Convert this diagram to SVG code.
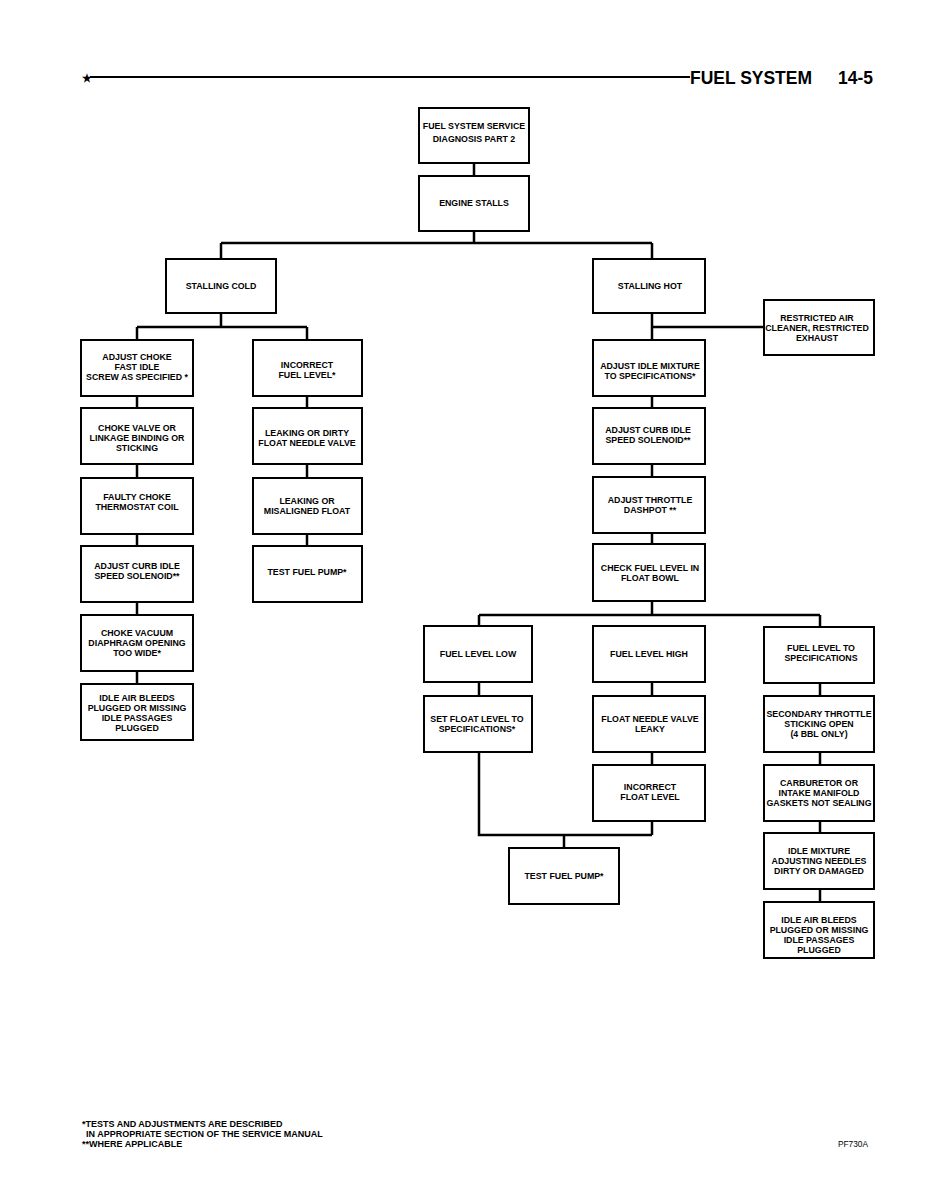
<svg xmlns="http://www.w3.org/2000/svg" width="927" height="1200" viewBox="0 0 927 1200">
<style>
.bx{fill:#fff;stroke:#000;stroke-width:2}
.t{font-family:"Liberation Sans",Arial,sans-serif;font-weight:bold;font-size:8.8px;text-anchor:middle;fill:#000}
.c{fill:none;stroke:#000;stroke-width:2.5}
.h{font-family:"Liberation Sans",Arial,sans-serif;font-weight:bold;font-size:19px;fill:#000}
.f{font-family:"Liberation Sans",Arial,sans-serif;font-weight:bold;font-size:9px;fill:#000}
</style>
<rect width="927" height="1200" fill="#fff"/>
<g id="header">
<text x="82" y="82" class="f" style="font-size:11px">★</text>
<line x1="90" y1="77" x2="690" y2="77" stroke="#000" stroke-width="2"/>
<text x="690" y="84" class="h" textLength="122" lengthAdjust="spacingAndGlyphs">FUEL SYSTEM</text>
<text x="838" y="84" class="h" textLength="35" lengthAdjust="spacingAndGlyphs">14-5</text>
</g>
<g id="connectors">
<path class="c" d="M474 163V176M474 231V243M221 243H652M221 243V259M652 243V259"/>
<path class="c" d="M221 313V327M137 327H307M137 327V340M307 327V340"/>
<path class="c" d="M137 396V408M137 464V478M137 534V546M137 602V615M137 671V684"/>
<path class="c" d="M307 396V408M307 464V478M307 534V546"/>
<path class="c" d="M652 313V340M652 327H764M652 396V408M652 464V477M652 533V544M652 601V615"/>
<path class="c" d="M479 615H820M479 615V626M820 615V627"/>
<path class="c" d="M479 682V696M479 752V835H652M652 682V696M652 752V765M652 821V835M564 835V848"/>
<path class="c" d="M820 683V696M820 752V765M820 821V833M820 889V902"/>
</g>
<g id="n1"><rect class="bx" x="419" y="108" width="110" height="55"/><text class="t" x="474" y="129">FUEL SYSTEM SERVICE</text><text class="t" x="474" y="142">DIAGNOSIS PART 2</text></g>
<g id="n2"><rect class="bx" x="419" y="176" width="110" height="55"/><text class="t" x="474" y="206">ENGINE STALLS</text></g>
<g id="n3"><rect class="bx" x="166" y="259" width="110" height="54"/><text class="t" x="221" y="289">STALLING COLD</text></g>
<g id="n4"><rect class="bx" x="593" y="259" width="112" height="54"/><text class="t" x="650" y="289">STALLING HOT</text></g>
<g id="n5"><rect class="bx" x="81" y="340" width="112" height="56"/><text class="t" x="137" y="360">ADJUST CHOKE</text><text class="t" x="137" y="370">FAST IDLE</text><text class="t" x="137" y="380">SCREW AS SPECIFIED *</text></g>
<g id="n6"><rect class="bx" x="81" y="408" width="112" height="56"/><text class="t" x="137" y="431">CHOKE VALVE OR</text><text class="t" x="137" y="441">LINKAGE BINDING OR</text><text class="t" x="137" y="451">STICKING</text></g>
<g id="n7"><rect class="bx" x="81" y="478" width="112" height="56"/><text class="t" x="137" y="500">FAULTY CHOKE</text><text class="t" x="137" y="510">THERMOSTAT COIL</text></g>
<g id="n8"><rect class="bx" x="81" y="546" width="112" height="56"/><text class="t" x="137" y="569">ADJUST CURB IDLE</text><text class="t" x="137" y="579">SPEED SOLENOID**</text></g>
<g id="n9"><rect class="bx" x="81" y="615" width="112" height="56"/><text class="t" x="137" y="636">CHOKE VACUUM</text><text class="t" x="137" y="646">DIAPHRAGM OPENING</text><text class="t" x="137" y="656">TOO WIDE*</text></g>
<g id="n10"><rect class="bx" x="81" y="684" width="112" height="56"/><text class="t" x="137" y="701">IDLE AIR BLEEDS</text><text class="t" x="137" y="711">PLUGGED OR MISSING</text><text class="t" x="137" y="721">IDLE PASSAGES</text><text class="t" x="137" y="731">PLUGGED</text></g>
<g id="n11"><rect class="bx" x="253" y="340" width="109" height="56"/><text class="t" x="307" y="368">INCORRECT</text><text class="t" x="307" y="378">FUEL LEVEL*</text></g>
<g id="n12"><rect class="bx" x="253" y="408" width="109" height="56"/><text class="t" x="307" y="436">LEAKING OR DIRTY</text><text class="t" x="307" y="446">FLOAT NEEDLE VALVE</text></g>
<g id="n13"><rect class="bx" x="253" y="478" width="109" height="56"/><text class="t" x="307" y="504">LEAKING OR</text><text class="t" x="307" y="514">MISALIGNED FLOAT</text></g>
<g id="n14"><rect class="bx" x="253" y="546" width="109" height="56"/><text class="t" x="307" y="575">TEST FUEL PUMP*</text></g>
<g id="n15"><rect class="bx" x="764" y="300" width="110" height="55"/><text class="t" x="817" y="321">RESTRICTED AIR</text><text class="t" x="817" y="331">CLEANER, RESTRICTED</text><text class="t" x="817" y="341">EXHAUST</text></g>
<g id="n16"><rect class="bx" x="593" y="340" width="112" height="56"/><text class="t" x="650" y="369">ADJUST IDLE MIXTURE</text><text class="t" x="650" y="379">TO SPECIFICATIONS*</text></g>
<g id="n17"><rect class="bx" x="593" y="408" width="112" height="56"/><text class="t" x="648" y="433">ADJUST CURB IDLE</text><text class="t" x="648" y="443">SPEED SOLENOID**</text></g>
<g id="n18"><rect class="bx" x="593" y="477" width="112" height="56"/><text class="t" x="650" y="503">ADJUST THROTTLE</text><text class="t" x="650" y="513">DASHPOT **</text></g>
<g id="n19"><rect class="bx" x="593" y="544" width="112" height="57"/><text class="t" x="650" y="571">CHECK FUEL LEVEL IN</text><text class="t" x="650" y="581">FLOAT BOWL</text></g>
<g id="n20"><rect class="bx" x="424" y="626" width="108" height="56"/><text class="t" x="478" y="657">FUEL LEVEL LOW</text></g>
<g id="n21"><rect class="bx" x="593" y="626" width="112" height="56"/><text class="t" x="649" y="657">FUEL LEVEL HIGH</text></g>
<g id="n22"><rect class="bx" x="764" y="627" width="110" height="56"/><text class="t" x="821" y="651">FUEL LEVEL TO</text><text class="t" x="821" y="661">SPECIFICATIONS</text></g>
<g id="n23"><rect class="bx" x="424" y="696" width="108" height="56"/><text class="t" x="477" y="722">SET FLOAT LEVEL TO</text><text class="t" x="477" y="732">SPECIFICATIONS*</text></g>
<g id="n24"><rect class="bx" x="593" y="696" width="112" height="56"/><text class="t" x="650" y="722">FLOAT NEEDLE VALVE</text><text class="t" x="650" y="732">LEAKY</text></g>
<g id="n25"><rect class="bx" x="764" y="696" width="110" height="56"/><text class="t" x="819" y="717">SECONDARY THROTTLE</text><text class="t" x="819" y="727">STICKING OPEN</text><text class="t" x="819" y="737">(4 BBL ONLY)</text></g>
<g id="n26"><rect class="bx" x="593" y="765" width="112" height="56"/><text class="t" x="650" y="790">INCORRECT</text><text class="t" x="650" y="800">FLOAT LEVEL</text></g>
<g id="n27"><rect class="bx" x="764" y="765" width="110" height="56"/><text class="t" x="819" y="786">CARBURETOR OR</text><text class="t" x="819" y="796">INTAKE MANIFOLD</text><text class="t" x="819" y="806">GASKETS NOT SEALING</text></g>
<g id="n28"><rect class="bx" x="509" y="848" width="110" height="56"/><text class="t" x="564" y="879">TEST FUEL PUMP*</text></g>
<g id="n29"><rect class="bx" x="764" y="833" width="110" height="56"/><text class="t" x="819" y="854">IDLE MIXTURE</text><text class="t" x="819" y="864">ADJUSTING NEEDLES</text><text class="t" x="819" y="874">DIRTY OR DAMAGED</text></g>
<g id="n30"><rect class="bx" x="764" y="902" width="110" height="56"/><text class="t" x="819" y="923">IDLE AIR BLEEDS</text><text class="t" x="819" y="933">PLUGGED OR MISSING</text><text class="t" x="819" y="943">IDLE PASSAGES</text><text class="t" x="819" y="953">PLUGGED</text></g>
<g id="footnotes">
<text class="f" x="82" y="1127">*TESTS AND ADJUSTMENTS ARE DESCRIBED</text>
<text class="f" x="86" y="1137">IN APPROPRIATE SECTION OF THE SERVICE MANUAL</text>
<text class="f" x="82" y="1147">**WHERE APPLICABLE</text>
<text class="f" x="838" y="1147" style="font-weight:normal;font-size:8.3px">PF730A</text>
</g>
</svg>
